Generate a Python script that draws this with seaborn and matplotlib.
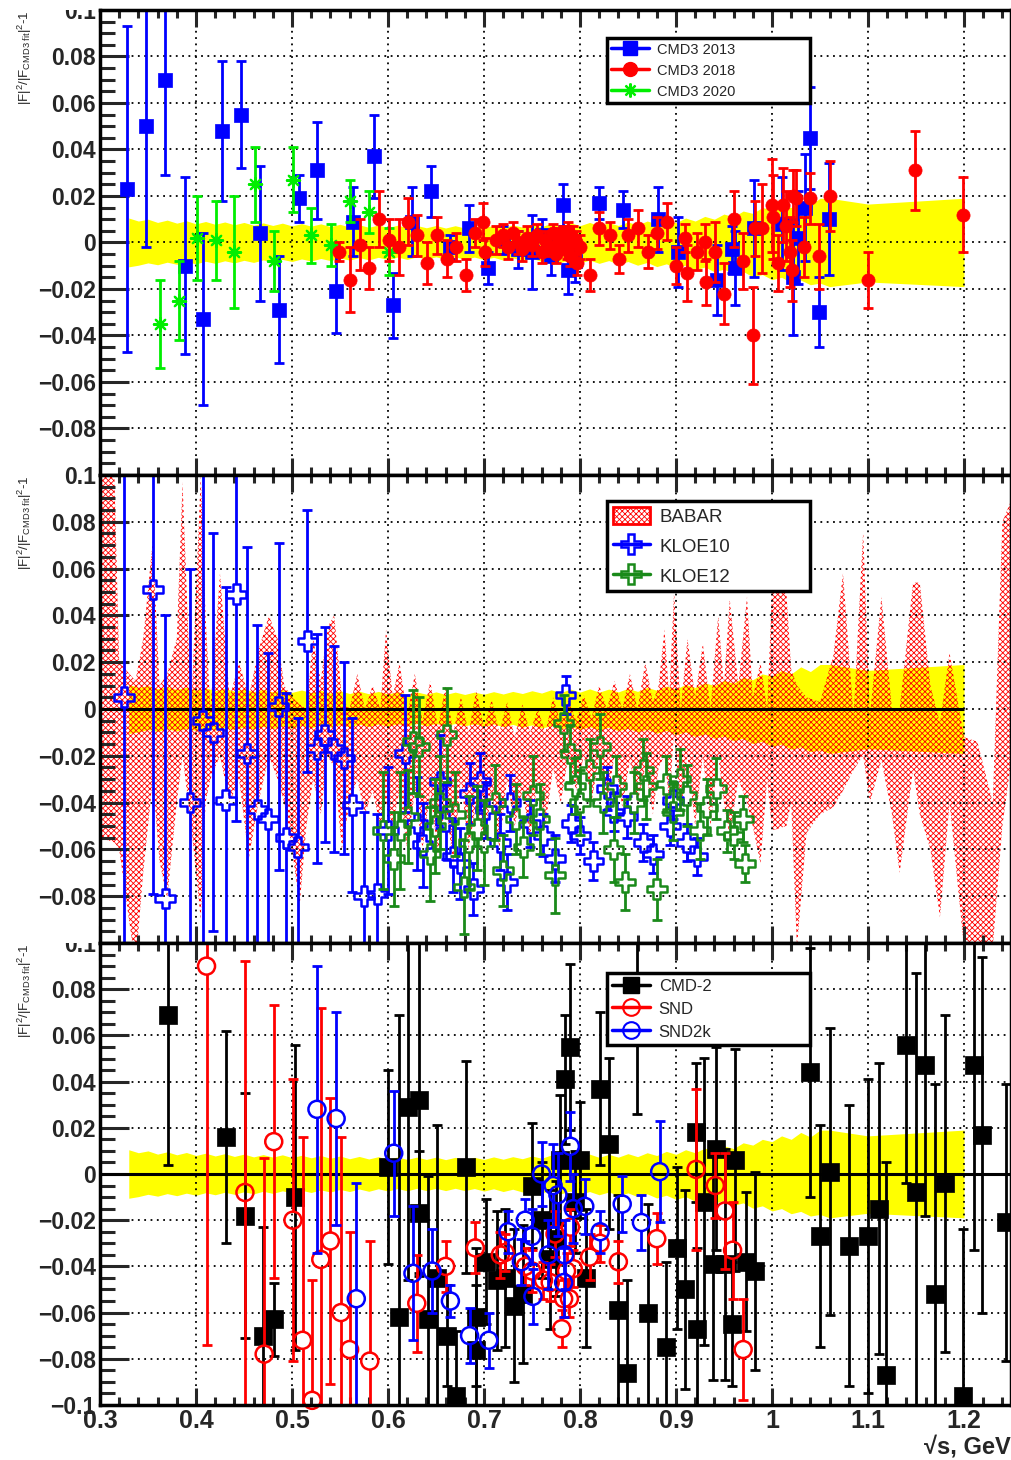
import numpy as np
import seaborn as sns
import matplotlib
matplotlib.use("Agg")
import matplotlib.pyplot as plt
from matplotlib.lines import Line2D
from matplotlib.patches import Patch
from matplotlib.ticker import FixedLocator, MultipleLocator, FuncFormatter
from matplotlib.transforms import Bbox, TransformedBbox

# ---------------- data ----------------
# CMD3 fit uncertainty band (yellow)
band_x = [0.33, 0.34, 0.35, 0.36, 0.37, 0.38, 0.39, 0.40, 0.41, 0.42,
          0.43, 0.44, 0.45, 0.46, 0.47, 0.48, 0.49, 0.50, 0.51, 0.52,
          0.53, 0.54, 0.55, 0.56, 0.57, 0.58, 0.59, 0.60, 0.61, 0.62,
          0.63, 0.64, 0.65, 0.66, 0.67, 0.68, 0.69, 0.70, 0.71, 0.72,
          0.73, 0.74, 0.75, 0.76, 0.77, 0.78, 0.79, 0.80, 0.81, 0.82,
          0.83, 0.84, 0.85, 0.86, 0.87, 0.88, 0.89, 0.90, 0.91, 0.92,
          0.93, 0.94, 0.95, 0.96, 0.97, 0.98, 0.99, 1.00, 1.01, 1.02,
          1.03, 1.04, 1.05, 1.06, 1.10, 1.20]
band_hi = [0.0105, 0.0092, 0.0100, 0.0086, 0.0096, 0.0083, 0.0093, 0.0080, 0.0090, 0.0078,
           0.0088, 0.0076, 0.0086, 0.0074, 0.0084, 0.0073, 0.0083, 0.0071, 0.0081, 0.0070,
           0.0080, 0.0068, 0.0078, 0.0066, 0.0076, 0.0065, 0.0075, 0.0064, 0.0074, 0.0063,
           0.0073, 0.0063, 0.0073, 0.0062, 0.0072, 0.0062, 0.0072, 0.0063, 0.0074, 0.0064,
           0.0075, 0.0066, 0.0078, 0.0068, 0.0082, 0.0070, 0.0085, 0.0072, 0.0086, 0.0072,
           0.0085, 0.0073, 0.0088, 0.0075, 0.0092, 0.0080, 0.0098, 0.0085, 0.0105, 0.0092,
           0.0112, 0.0100, 0.0122, 0.0110, 0.0135, 0.0125, 0.0150, 0.0140, 0.0165, 0.0150,
           0.0180, 0.0160, 0.0190, 0.0190, 0.0165, 0.0190]
band_lo = [-0.0105, -0.0098, -0.0088, -0.0096, -0.0085, -0.0094, -0.0083, -0.0092, -0.0081, -0.0090,
           -0.0079, -0.0088, -0.0077, -0.0086, -0.0075, -0.0084, -0.0073, -0.0082, -0.0071, -0.0080,
           -0.0069, -0.0078, -0.0067, -0.0076, -0.0065, -0.0075, -0.0064, -0.0074, -0.0063, -0.0073,
           -0.0062, -0.0072, -0.0062, -0.0072, -0.0062, -0.0072, -0.0063, -0.0074, -0.0064, -0.0076,
           -0.0066, -0.0078, -0.0068, -0.0082, -0.0071, -0.0086, -0.0074, -0.0088, -0.0076, -0.0090,
           -0.0078, -0.0093, -0.0082, -0.0098, -0.0086, -0.0104, -0.0092, -0.0110, -0.0098, -0.0118,
           -0.0106, -0.0126, -0.0115, -0.0136, -0.0125, -0.0148, -0.0138, -0.0160, -0.0150, -0.0172,
           -0.0162, -0.0182, -0.0175, -0.0190, -0.0170, -0.0190]

# BABAR band (hatched)
babar_x = [0.300, 0.315, 0.320, 0.337, 0.345, 0.355, 0.362, 0.370, 0.380, 0.386,
           0.395, 0.405, 0.410, 0.415, 0.425, 0.435, 0.445, 0.455, 0.465, 0.476,
           0.485, 0.492, 0.500, 0.508, 0.515, 0.522, 0.530, 0.537, 0.544, 0.552,
           0.560, 0.568, 0.576, 0.584, 0.592, 0.598, 0.605, 0.612, 0.620, 0.628,
           0.636, 0.644, 0.652, 0.660, 0.668, 0.676, 0.684, 0.692, 0.700, 0.708,
           0.716, 0.724, 0.732, 0.740, 0.748, 0.756, 0.764, 0.772, 0.780, 0.788,
           0.796, 0.804, 0.812, 0.820, 0.828, 0.836, 0.844, 0.852, 0.860, 0.868,
           0.876, 0.882, 0.888, 0.893, 0.898, 0.905, 0.912, 0.920, 0.928, 0.936,
           0.944, 0.950, 0.956, 0.965, 0.974, 0.980, 0.988, 0.995, 1.000, 1.015,
           1.020, 1.026, 1.036, 1.050, 1.064, 1.074, 1.085, 1.095, 1.102, 1.114,
           1.125, 1.133, 1.147, 1.154, 1.165, 1.175, 1.185, 1.200, 1.214, 1.230,
           1.240, 1.250]
babar_hi = [0.100, 0.100, 0.020, 0.012, 0.030, 0.072, 0.010, 0.015, 0.030, 0.097,
            0.000, 0.100, 0.040, 0.000, 0.058, 0.005, 0.020, 0.005, 0.025, 0.040,
            0.030, 0.010, 0.005, 0.002, 0.000, 0.030, 0.012, 0.035, 0.040, 0.005,
            0.000, 0.015, 0.000, 0.010, 0.000, 0.034, 0.005, 0.020, -0.003, 0.015,
            -0.005, 0.012, -0.008, 0.010, -0.010, 0.005, -0.010, 0.008, -0.008, 0.004,
            -0.010, 0.003, -0.012, 0.002, -0.010, 0.000, -0.010, 0.005, -0.006, 0.004,
            -0.005, 0.006, -0.004, 0.010, 0.000, 0.012, 0.000, 0.015, 0.000, 0.020,
            0.003, 0.010, 0.034, 0.005, 0.050, 0.000, 0.030, 0.005, 0.028, 0.000,
            0.040, 0.010, 0.047, 0.010, 0.048, 0.005, 0.020, 0.000, 0.050, 0.050,
            0.017, 0.010, 0.005, 0.003, 0.023, 0.058, -0.003, 0.076, -0.003, 0.048,
            0.000, 0.000, 0.054, 0.054, 0.010, -0.006, 0.024, -0.012, -0.014, -0.040,
            0.080, 0.090]
babar_lo = [-0.055, -0.057, -0.060, -0.110, -0.070, -0.030, -0.065, -0.081, -0.040, -0.020,
            -0.050, -0.090, -0.040, -0.030, -0.020, -0.040, -0.030, -0.064, -0.040, -0.020,
            -0.030, -0.040, -0.060, -0.084, -0.050, -0.030, -0.045, -0.020, -0.025, -0.060,
            -0.040, -0.030, -0.045, -0.035, -0.050, -0.040, -0.050, -0.035, -0.060, -0.035,
            -0.060, -0.035, -0.062, -0.040, -0.066, -0.030, -0.060, -0.040, -0.058, -0.035,
            -0.060, -0.030, -0.050, -0.035, -0.055, -0.030, -0.050, -0.025, -0.040, -0.020,
            -0.035, -0.020, -0.040, -0.020, -0.040, -0.020, -0.042, -0.022, -0.040, -0.025,
            -0.045, -0.025, -0.020, -0.040, -0.010, -0.045, -0.020, -0.050, -0.020, -0.050,
            -0.020, -0.040, -0.055, -0.030, -0.040, -0.050, -0.066, -0.030, -0.052, -0.050,
            -0.040, -0.102, -0.053, -0.045, -0.042, -0.035, -0.026, -0.020, -0.040, -0.022,
            -0.045, -0.070, -0.026, -0.045, -0.060, -0.089, -0.040, -0.102, -0.102, -0.102,
            -0.050, -0.020]

# panel 1
cmd3_2013_x = [0.328, 0.348, 0.368, 0.389, 0.407, 0.427, 0.447, 0.467, 0.486, 0.507,
               0.526, 0.546, 0.564, 0.585, 0.605, 0.625, 0.645, 0.665, 0.684, 0.704,
               0.720, 0.735, 0.750, 0.760, 0.770, 0.782, 0.788, 0.795, 0.820, 0.845,
               0.881, 0.902, 0.943, 0.958, 0.961, 0.981, 1.010, 1.022, 1.027, 1.034,
               1.040, 1.049, 1.059]
cmd3_2013_y = [0.023, 0.050, 0.070, -0.010, -0.033, 0.048, 0.055, 0.004, -0.029, 0.019,
               0.031, -0.021, 0.009, 0.037, -0.027, 0.009, 0.022, -0.002, 0.006, -0.011,
               0.001, -0.003, -0.004, 0.003, -0.006, 0.016, -0.012, -0.008, 0.017, 0.014,
               0.010, -0.004, -0.016, -0.003, -0.011, 0.006, 0.008, -0.015, 0.002, 0.015,
               0.045, -0.030, 0.010]
cmd3_2013_err = [0.070, 0.052, 0.041, 0.038, 0.037, 0.030, 0.023, 0.029, 0.023, 0.010,
                 0.021, 0.018, 0.015, 0.018, 0.014, 0.015, 0.011, 0.005, 0.010, 0.007,
                 0.006, 0.008, 0.016, 0.007, 0.008, 0.009, 0.010, 0.009, 0.007, 0.008,
                 0.014, 0.015, 0.015, 0.010, 0.016, 0.021, 0.020, 0.025, 0.020, 0.023,
                 0.022, 0.015, 0.024]

cmd3_2018_x = [0.549, 0.560, 0.571, 0.580, 0.591, 0.601, 0.611, 0.621, 0.630, 0.641,
               0.651, 0.661, 0.671, 0.681, 0.691, 0.699, 0.701, 0.713, 0.720, 0.725,
               0.730, 0.735, 0.740, 0.745, 0.750, 0.755, 0.760, 0.764, 0.768, 0.772,
               0.775, 0.778, 0.780, 0.782, 0.784, 0.786, 0.788, 0.790, 0.793, 0.796,
               0.797, 0.800, 0.810, 0.820, 0.831, 0.841, 0.850, 0.860, 0.871, 0.880,
               0.891, 0.900, 0.909, 0.911, 0.922, 0.930, 0.931, 0.941, 0.950, 0.960,
               0.970, 0.980, 0.982, 0.990, 1.000, 1.001, 1.006, 1.011, 1.015, 1.019,
               1.021, 1.022, 1.025, 1.033, 1.040, 1.049, 1.060, 1.100, 1.149, 1.199]
cmd3_2018_y = [-0.004, -0.016, -0.001, -0.011, 0.010, 0.001, -0.002, 0.009, 0.003, -0.009,
               0.003, -0.007, -0.002, -0.014, 0.004, 0.009, -0.004, 0.001, 0.003, -0.002,
               0.004, 0.000, -0.003, 0.002, -0.001, 0.003, -0.004, 0.001, -0.002, 0.004,
               -0.005, 0.002, -0.001, 0.003, 0.000, -0.003, 0.005, -0.006, 0.002, 0.000,
               -0.009, -0.002, -0.014, 0.006, 0.003, -0.007, 0.003, 0.006, -0.004, 0.004,
               0.009, -0.010, 0.002, -0.013, -0.004, 0.000, -0.017, -0.004, -0.022, 0.010,
               -0.008, -0.040, 0.006, 0.006, 0.016, 0.011, -0.009, 0.016, 0.007, -0.004,
               -0.012, 0.020, 0.019, -0.002, 0.019, -0.006, 0.020, -0.016, 0.031, 0.012]
cmd3_2018_err = [0.004, 0.014, 0.011, 0.009, 0.012, 0.009, 0.012, 0.010, 0.009, 0.009,
                 0.008, 0.008, 0.006, 0.007, 0.006, 0.008, 0.006, 0.006, 0.005, 0.005,
                 0.005, 0.005, 0.005, 0.005, 0.005, 0.005, 0.005, 0.004, 0.004, 0.004,
                 0.004, 0.004, 0.004, 0.004, 0.004, 0.004, 0.004, 0.004, 0.005, 0.005,
                 0.005, 0.005, 0.007, 0.007, 0.006, 0.006, 0.007, 0.008, 0.007, 0.007,
                 0.008, 0.008, 0.006, 0.012, 0.008, 0.008, 0.010, 0.013, 0.013, 0.012,
                 0.012, 0.021, 0.012, 0.019, 0.020, 0.018, 0.012, 0.016, 0.015, 0.015,
                 0.013, 0.011, 0.012, 0.013, 0.011, 0.014, 0.015, 0.012, 0.017, 0.016]

cmd3_2020_x = [0.362, 0.382, 0.401, 0.421, 0.440, 0.461, 0.481, 0.501, 0.520, 0.541,
               0.560, 0.580, 0.601]
cmd3_2020_y = [-0.035, -0.025, 0.002, 0.001, -0.004, 0.025, -0.008, 0.027, 0.003, -0.001,
               0.018, 0.013, -0.004]
cmd3_2020_err = [0.019, 0.017, 0.018, 0.017, 0.024, 0.016, 0.013, 0.014, 0.012, 0.009,
                 0.009, 0.009, 0.010]

# panel 2
kloe10_x = [0.325, 0.355, 0.368, 0.394, 0.407, 0.418, 0.431, 0.442, 0.453, 0.464,
            0.475, 0.486, 0.494, 0.506, 0.516, 0.526, 0.534, 0.544, 0.554, 0.563,
            0.575, 0.589, 0.600, 0.618, 0.630, 0.636, 0.654, 0.660, 0.668, 0.675,
            0.685, 0.689, 0.696, 0.702, 0.717, 0.724, 0.727, 0.748, 0.762, 0.774,
            0.785, 0.791, 0.800, 0.814, 0.828, 0.835, 0.849, 0.866, 0.876, 0.894,
            0.897, 0.911, 0.922]
kloe10_y = [0.005, 0.051, -0.081, -0.040, -0.005, -0.010, -0.039, 0.049, -0.019, -0.043,
            -0.047, 0.001, -0.055, -0.059, 0.029, -0.017, -0.011, -0.017, -0.021, -0.041,
            -0.080, -0.079, -0.052, -0.019, -0.049, -0.058, -0.031, -0.048, -0.063, -0.066,
            -0.036, -0.077, -0.031, -0.043, -0.057, -0.074, -0.040, -0.049, -0.054, -0.064,
            0.006, -0.049, -0.054, -0.065, -0.034, -0.044, -0.046, -0.057, -0.062, -0.050,
            -0.039, -0.057, -0.063]
kloe10_err = [0.120, 0.130, 0.121, 0.100, 0.150, 0.085, 0.091, 0.097, 0.088, 0.079,
              0.071, 0.070, 0.062, 0.055, 0.056, 0.049, 0.046, 0.044, 0.041, 0.037,
              0.036, 0.034, 0.027, 0.025, 0.020, 0.018, 0.020, 0.016, 0.015, 0.015,
              0.013, 0.011, 0.012, 0.012, 0.012, 0.012, 0.012, 0.010, 0.009, 0.010,
              0.008, 0.008, 0.008, 0.008, 0.009, 0.008, 0.009, 0.008, 0.008, 0.008,
              0.008, 0.008, 0.008]

kloe12_x = [0.595, 0.606, 0.613, 0.621, 0.626, 0.632, 0.644, 0.649, 0.654, 0.661,
            0.670, 0.679, 0.684, 0.693, 0.700, 0.712, 0.720, 0.733, 0.741, 0.751,
            0.758, 0.774, 0.783, 0.790, 0.795, 0.800, 0.810, 0.821, 0.824, 0.835,
            0.838, 0.847, 0.856, 0.866, 0.869, 0.880, 0.890, 0.897, 0.904, 0.911,
            0.925, 0.932, 0.942, 0.953, 0.960, 0.970, 0.972]
kloe12_y = [-0.052, -0.064, -0.052, -0.046, -0.014, -0.016, -0.062, -0.050, -0.040, -0.011,
            -0.045, -0.076, -0.057, -0.051, -0.057, -0.040, -0.069, -0.047, -0.059, -0.037,
            -0.047, -0.071, -0.006, -0.019, -0.033, -0.040, -0.026, -0.016, -0.040, -0.060,
            -0.033, -0.074, -0.040, -0.026, -0.033, -0.077, -0.032, -0.044, -0.030, -0.037,
            -0.052, -0.042, -0.034, -0.052, -0.054, -0.047, -0.066]
kloe12_err = [0.025, 0.020, 0.025, 0.020, 0.022, 0.021, 0.020, 0.020, 0.020, 0.020,
              0.018, 0.020, 0.020, 0.018, 0.018, 0.016, 0.015, 0.015, 0.013, 0.017,
              0.015, 0.016, 0.012, 0.012, 0.012, 0.014, 0.013, 0.014, 0.013, 0.014,
              0.013, 0.012, 0.013, 0.013, 0.014, 0.013, 0.012, 0.012, 0.013, 0.013,
              0.012, 0.012, 0.013, 0.009, 0.010, 0.010, 0.008]

# panel 3
cmd2_x = [0.371, 0.431, 0.451, 0.470, 0.481, 0.503, 0.600, 0.611, 0.621, 0.632,
          0.632, 0.642, 0.651, 0.661, 0.671, 0.681, 0.692, 0.692, 0.702, 0.714,
          0.722, 0.731, 0.741, 0.750, 0.760, 0.769, 0.775, 0.779, 0.784, 0.790,
          0.795, 0.800, 0.806, 0.821, 0.830, 0.840, 0.849, 0.859, 0.871, 0.890,
          0.901, 0.909, 0.921, 0.922, 0.929, 0.939, 0.942, 0.951, 0.958, 0.962,
          0.973, 0.982, 1.040, 1.050, 1.060, 1.080, 1.100, 1.111, 1.119, 1.140,
          1.150, 1.159, 1.170, 1.180, 1.199, 1.210, 1.219, 1.244]
cmd2_y = [0.069, 0.016, -0.018, -0.070, -0.063, -0.010, 0.003, -0.062, 0.029, 0.032,
          -0.017, -0.063, -0.045, -0.070, -0.096, 0.003, -0.062, -0.076, -0.038, -0.046,
          -0.045, -0.057, -0.052, -0.005, -0.020, -0.037, -0.028, 0.006, 0.041, 0.055,
          -0.012, 0.006, -0.045, 0.037, 0.013, -0.059, -0.086, 0.063, -0.060, -0.075,
          -0.032, -0.050, 0.018, -0.067, -0.012, -0.039, 0.011, -0.039, -0.065, 0.006,
          -0.038, -0.042, 0.044, -0.027, 0.001, -0.031, -0.027, -0.015, -0.087, 0.056,
          -0.008, 0.047, -0.052, -0.004, -0.096, 0.047, 0.017, -0.021]
cmd2_err = [0.065, 0.046, 0.053, 0.047, 0.016, 0.066, 0.042, 0.131, 0.075, 0.075,
            0.027, 0.062, 0.066, 0.022, 0.028, 0.046, 0.030, 0.028, 0.027, 0.030,
            0.030, 0.033, 0.030, 0.027, 0.025, 0.030, 0.025, 0.028, 0.028, 0.036,
            0.022, 0.025, 0.030, 0.033, 0.037, 0.050, 0.040, 0.037, 0.047, 0.037,
            0.035, 0.043, 0.030, 0.035, 0.062, 0.050, 0.044, 0.050, 0.027, 0.048,
            0.030, 0.043, 0.054, 0.048, 0.062, 0.061, 0.068, 0.063, 0.092, 0.060,
            0.095, 0.065, 0.091, 0.073, 0.072, 0.080, 0.077, 0.060]

snd_x = [0.411, 0.451, 0.471, 0.481, 0.501, 0.511, 0.521, 0.530, 0.540, 0.551,
         0.560, 0.581, 0.630, 0.660, 0.691, 0.717, 0.722, 0.743, 0.750, 0.762,
         0.769, 0.774, 0.781, 0.783, 0.786, 0.789, 0.790, 0.793, 0.810, 0.821,
         0.840, 0.880, 0.921, 0.941, 0.951, 0.959, 0.970]
snd_y = [0.090, -0.008, -0.078, 0.014, -0.020, -0.072, -0.098, -0.037, -0.029, -0.060,
         -0.076, -0.081, -0.056, -0.040, -0.032, -0.035, -0.034, -0.040, -0.042, -0.046,
         -0.047, -0.026, -0.067, -0.054, -0.042, -0.054, -0.023, -0.041, -0.036, -0.030,
         -0.038, -0.028, 0.002, -0.005, -0.016, -0.033, -0.076]
snd_err = [0.164, 0.100, 0.085, 0.059, 0.061, 0.088, 0.052, 0.109, 0.062, 0.076,
           0.051, 0.052, 0.021, 0.011, 0.011, 0.010, 0.008, 0.008, 0.009, 0.008,
           0.008, 0.010, 0.008, 0.008, 0.008, 0.008, 0.008, 0.008, 0.010, 0.008,
           0.009, 0.011, 0.035, 0.014, 0.025, 0.021, 0.022]

snd2k_x = [0.526, 0.546, 0.567, 0.606, 0.626, 0.646, 0.665, 0.685, 0.705, 0.725,
           0.739, 0.743, 0.750, 0.751, 0.760, 0.767, 0.772, 0.777, 0.783, 0.784,
           0.790, 0.793, 0.805, 0.821, 0.844, 0.864, 0.883]
snd2k_y = [0.028, 0.024, -0.054, 0.009, -0.043, -0.042, -0.055, -0.070, -0.072, -0.025,
           -0.038, -0.020, -0.027, -0.053, 0.000, -0.035, -0.005, -0.009, -0.047, -0.035,
           0.012, -0.015, -0.014, -0.025, -0.013, -0.021, 0.001]
snd2k_err = [0.062, 0.046, 0.050, 0.027, 0.029, 0.018, 0.007, 0.012, 0.012, 0.009,
             0.010, 0.009, 0.012, 0.012, 0.014, 0.015, 0.018, 0.018, 0.015, 0.015,
             0.015, 0.015, 0.012, 0.009, 0.012, 0.012, 0.022]

x_ticks = [0.3, 0.4, 0.5, 0.6, 0.7, 0.8, 0.9, 1.0, 1.1, 1.2]
y_ticks = [-0.1, -0.08, -0.06, -0.04, -0.02, 0.0, 0.02, 0.04, 0.06, 0.08, 0.1]
zero_span_mid = (0.3, 1.2)
zero_span_bot = (0.3, 1.25)

ylab = r"$\mathrm{|F|^{2}/|F_{CMD3\ fit}|^{2}}$-1"

# ---------------- style ----------------
sns.set_theme(style="white")
plt.rcParams["font.family"] = ["Liberation Sans", "DejaVu Sans"]
plt.rcParams["mathtext.fontset"] = "custom"
plt.rcParams["mathtext.rm"] = "Liberation Sans"
plt.rcParams["mathtext.it"] = "Liberation Sans:italic"
plt.rcParams["mathtext.bf"] = "Liberation Sans:bold"
plt.rcParams["hatch.linewidth"] = 0.6

BLUE = "#0000ff"
RED = "#ff0000"
LIME = "#00ee00"
KGREEN = "#1a8a1a"
YELLOW = "#ffff00"


def draw_points(ax, xs, ys, errs, color, marker, size, style="filled", gap=0.0, z=3):
    xs, ys, errs = np.asarray(xs), np.asarray(ys), np.asarray(errs)
    g = np.minimum(gap, errs)
    ax.vlines(xs, ys + g, ys + errs, colors=color, lw=2.0, zorder=z)
    ax.vlines(xs, ys - errs, ys - g, colors=color, lw=2.0, zorder=z)
    for ends in (ys + errs, ys - errs):
        ax.plot(xs, ends, ls="none", marker="_", ms=6.5, mew=2.0, color=color, zorder=z)
    if style == "hollow":
        kw = dict(facecolor="none", edgecolor=color, linewidth=1.8)
    elif style == "star":
        kw = dict(linewidth=1.6)
    else:
        kw = dict(edgecolor=color, linewidth=0.5)
    sns.scatterplot(x=xs, y=ys, ax=ax, marker=marker, s=size, color=color,
                    zorder=z + 0.1, clip_on=False, legend=False, **kw)


def y_formatter(hide_bottom):
    def fmt(v, pos):
        v = round(v, 3)
        if hide_bottom and v <= -0.1:
            return ""
        if v == 0:
            return "0"
        return f"{v:g}".replace("-", "\u2212")
    return FuncFormatter(fmt)


def style_axes(ax, hide_bottom, show_x):
    ax.set_xlim(0.3, 1.249)
    ax.set_ylim(-0.1, 0.1)
    ax.set_axisbelow("line")
    ax.xaxis.set_major_locator(FixedLocator(x_ticks))
    ax.xaxis.set_minor_locator(MultipleLocator(0.02))
    ax.yaxis.set_major_locator(FixedLocator(y_ticks))
    ax.yaxis.set_minor_locator(MultipleLocator(0.005))
    ax.yaxis.set_major_formatter(y_formatter(hide_bottom))
    ax.xaxis.set_major_formatter(FuncFormatter(lambda v, p: f"{round(v, 2):g}"))
    ax.tick_params(axis="y", which="major", direction="in", length=21, width=2.2,
                   labelsize=16.5, pad=3, left=True, right=False)
    ax.tick_params(axis="y", which="minor", direction="in", length=11, width=2.2,
                   left=True, right=False)
    ax.tick_params(axis="x", which="major", direction="in", length=12, width=2.2,
                   labelsize=18, pad=3, top=True, bottom=True, labelbottom=show_x)
    ax.tick_params(axis="x", which="minor", direction="in", length=6, width=2.2,
                   top=True, bottom=True)
    ax.grid(True, which="major", color="black", linestyle=(0, (1, 2.5)), linewidth=1.3)
    for sp in ax.spines.values():
        sp.set_linewidth(2.5)
        sp.set_color("black")
        sp.set_zorder(6)
    ax.set_ylabel(ylab, loc="top", fontsize=9.5)
    ax.yaxis.set_label_coords(-0.072, 1.0)
    for t in ax.yaxis.get_major_ticks() + ax.xaxis.get_major_ticks():
        t.label1.set_fontweight("bold")


def clip_top_label(ax, fig_top):
    # the pad above hides the upper half of the topmost y label
    clip = TransformedBbox(Bbox([[0, 0], [1, fig_top]]), ax.figure.transFigure)
    top_tick = ax.yaxis.get_major_ticks()[-1]
    top_tick.label1.set_clip_box(clip)
    top_tick.label1.set_clip_on(True)


def add_legend(ax, handles, labels, top, fs, hl, ls):
    leg = ax.legend(handles, labels, loc="upper left", bbox_to_anchor=(0.5565, top, 0.2225, 0),
                    mode="expand", borderaxespad=0, fontsize=fs, frameon=True, fancybox=False,
                    edgecolor="black", framealpha=1, handlelength=hl,
                    handletextpad=0.5, labelspacing=ls, borderpad=0.3, handleheight=1.0)
    leg.get_frame().set_linewidth(2.5)
    leg.set_zorder(10)
    return leg


fig = plt.figure(figsize=(10.11, 14.6), dpi=100)
ax1 = fig.add_axes([0.0989, 0.6747, 0.9011, 0.3185])
ax2 = fig.add_axes([0.0989, 0.3541, 0.9011, 0.3206])
ax3 = fig.add_axes([0.0989, 0.0377, 0.9011, 0.3164])

for ax in (ax1, ax2, ax3):
    ax.fill_between(band_x, band_lo, band_hi, color=YELLOW, lw=0, zorder=1)

# panel 1
draw_points(ax1, cmd3_2013_x, cmd3_2013_y, cmd3_2013_err, BLUE, "s", 100, z=3)
draw_points(ax1, cmd3_2020_x, cmd3_2020_y, cmd3_2020_err, LIME, (8, 2, 0), 90, style="star", z=4)
draw_points(ax1, cmd3_2018_x, cmd3_2018_y, cmd3_2018_err, RED, "o", 90, z=5)
style_axes(ax1, hide_bottom=True, show_x=False)
add_legend(ax1,
           [Line2D([0], [0], color=BLUE, lw=2.5, marker="s", ms=10),
            Line2D([0], [0], color=RED, lw=2.5, marker="o", ms=10),
            Line2D([0], [0], color=LIME, lw=2.5, marker=(8, 2, 0), ms=10, mew=1.6)],
           ["CMD3 2013", "CMD3 2018", "CMD3 2020"], 0.94, 10.5, 2.6, 0.45)
clip_top_label(ax1, 0.9932)

# panel 2
ax2.fill_between(babar_x, babar_lo, babar_hi, facecolor="none", edgecolor=RED,
                 hatch="xxxxxx", lw=0, zorder=1.2)
ax2.hlines(0, *zero_span_mid, color="black", lw=2.2, zorder=2)
draw_points(ax2, kloe10_x, kloe10_y, kloe10_err, BLUE, "P", 200, style="hollow", gap=0.0042, z=3)
draw_points(ax2, kloe12_x, kloe12_y, kloe12_err, KGREEN, "P", 200, style="hollow", gap=0.0042, z=4)
style_axes(ax2, hide_bottom=True, show_x=False)
add_legend(ax2,
           [Patch(facecolor="white", edgecolor=RED, hatch="xxxxxx", lw=2.0),
            Line2D([0], [0], color=BLUE, lw=2.5, marker="P", ms=14, mfc="none", mew=1.8),
            Line2D([0], [0], color=KGREEN, lw=2.5, marker="P", ms=14, mfc="none", mew=1.8)],
           ["BABAR", "KLOE10", "KLOE12"], 0.944, 13.5, 2.0, 0.6)

# panel 3
ax3.hlines(0, *zero_span_bot, color="black", lw=2.2, zorder=2)
draw_points(ax3, cmd2_x, cmd2_y, cmd2_err, "black", "s", 150, z=3)
draw_points(ax3, snd_x, snd_y, snd_err, RED, "o", 150, style="hollow", gap=0.0036, z=4)
draw_points(ax3, snd2k_x, snd2k_y, snd2k_err, BLUE, "o", 150, style="hollow", gap=0.0036, z=5)
style_axes(ax3, hide_bottom=False, show_x=True)
add_legend(ax3,
           [Line2D([0], [0], color="black", lw=2.5, marker="s", ms=12),
            Line2D([0], [0], color=RED, lw=2.5, marker="o", ms=12, mfc="none", mew=1.5),
            Line2D([0], [0], color=BLUE, lw=2.5, marker="o", ms=12, mfc="none", mew=1.5)],
           ["CMD-2", "SND", "SND2k"], 0.935, 12, 2.3, 0.39)
ax3.set_xlabel("\u221as, GeV", loc="right", fontsize=17, fontweight="bold", labelpad=2)
clip_top_label(ax3, 0.3541)

fig.savefig("out.png", dpi=100)
